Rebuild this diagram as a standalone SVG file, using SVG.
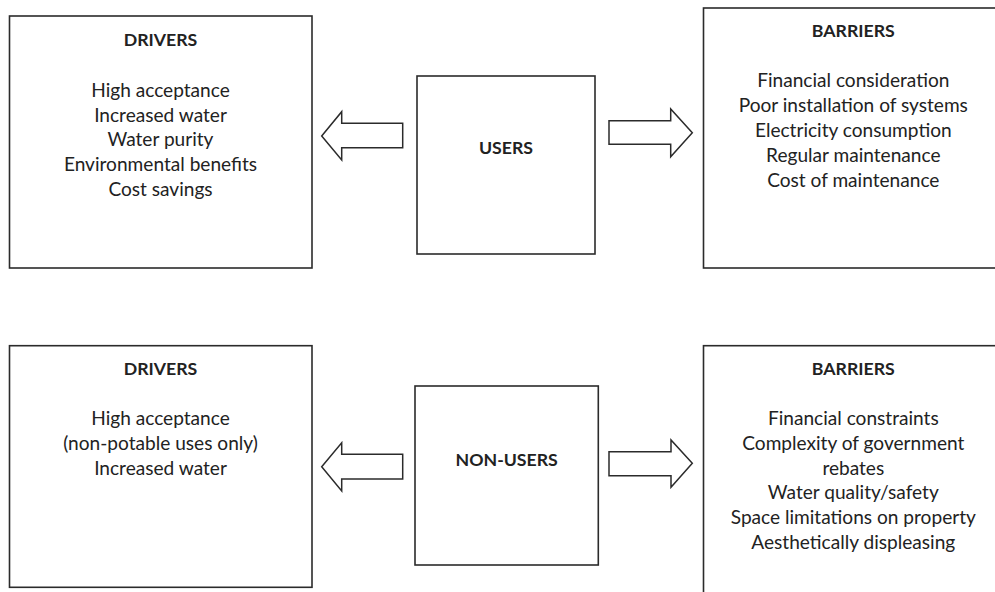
<svg xmlns="http://www.w3.org/2000/svg" width="995" height="592" viewBox="0 0 995 592">
<style>
.box{fill:#fff;stroke:#2b2b2b;stroke-width:1.6}
.arr{fill:#fff;stroke:#2b2b2b;stroke-width:1.5;stroke-linejoin:miter}
.h{font-family:Lato,"Open Sans",sans-serif;font-weight:bold;font-size:17.7px;fill:#222;text-anchor:middle}
.t{font-family:Lato,"Open Sans",sans-serif;font-size:19.1px;fill:#222;text-anchor:middle}
</style>
<rect width="995" height="592" fill="#fff"/>
<g id="drivers-users">
<rect class="box" x="9.5" y="16" width="302.5" height="252"/>
<text class="h" x="160.5" y="45.5">DRIVERS</text>
<text class="t" x="160.5" y="96.7">High acceptance</text>
<text class="t" x="160.5" y="121.5">Increased water</text>
<text class="t" x="160.5" y="146.3">Water purity</text>
<text class="t" x="160.5" y="171">Environmental benefits</text>
<text class="t" x="160.5" y="195.7">Cost savings</text>
</g>
<g id="users">
<rect class="box" x="417" y="76" width="178" height="178"/>
<text class="h" x="506" y="154.3">USERS</text>
</g>
<g id="barriers-users">
<rect class="box" x="703.5" y="8" width="300" height="260"/>
<text class="h" x="853.3" y="37.3">BARRIERS</text>
<text class="t" x="853.3" y="87.3">Financial consideration</text>
<text class="t" x="853.3" y="112.1">Poor installation of systems</text>
<text class="t" x="853.3" y="136.9">Electricity consumption</text>
<text class="t" x="853.3" y="161.7">Regular maintenance</text>
<text class="t" x="853.3" y="186.5">Cost of maintenance</text>
</g>
<g id="drivers-nonusers">
<rect class="box" x="9.5" y="345.7" width="302.5" height="241.6"/>
<text class="h" x="160.5" y="375">DRIVERS</text>
<text class="t" x="160.5" y="425">High acceptance</text>
<text class="t" x="160.5" y="450">(non-potable uses only)</text>
<text class="t" x="160.5" y="475">Increased water</text>
</g>
<g id="nonusers">
<rect class="box" x="415" y="386" width="183.3" height="179"/>
<text class="h" x="506.7" y="465.7">NON-USERS</text>
</g>
<g id="barriers-nonusers">
<rect class="box" x="703.5" y="345.7" width="300" height="260"/>
<text class="h" x="853.3" y="375">BARRIERS</text>
<text class="t" x="853.3" y="425">Financial constraints</text>
<text class="t" x="853.3" y="449.8">Complexity of government</text>
<text class="t" x="853.3" y="474.6">rebates</text>
<text class="t" x="853.3" y="499.4">Water quality/safety</text>
<text class="t" x="853.3" y="524.2">Space limitations on property</text>
<text class="t" x="853.3" y="549">Aesthetically displeasing</text>
</g>
<g id="connectors">
<path class="arr" d="M321.7,136 L341.7,111.7 L341.7,123.3 L402.7,123.3 L402.7,147.7 L341.7,147.7 L341.7,160 Z"/>
<path class="arr" d="M609,120.7 L670.7,120.7 L670.7,109 L692.3,132.7 L670.7,156.7 L670.7,144.3 L609,144.3 Z"/>
<path class="arr" d="M321.7,466.7 L341.7,442.7 L341.7,454.3 L402.7,454.3 L402.7,479 L341.7,479 L341.7,491 Z"/>
<path class="arr" d="M609,451.7 L671,451.7 L671,440 L692.3,463.3 L671,487.3 L671,475.7 L609,475.7 Z"/>
</g>
</svg>
